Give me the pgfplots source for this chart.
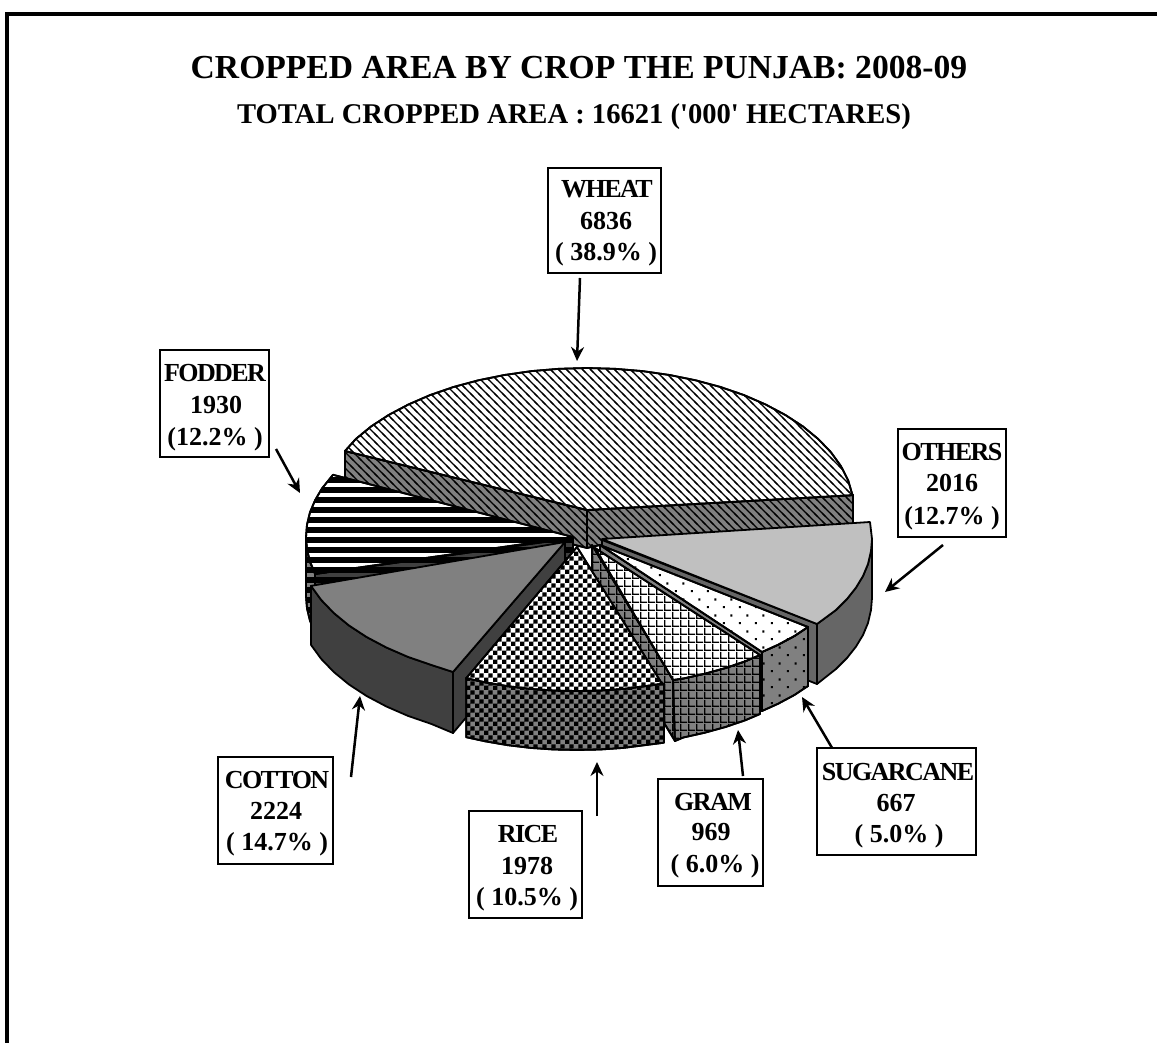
\documentclass[border=0pt]{standalone}
\usepackage{fontspec}
\setmainfont{Liberation Serif}
\usepackage{pgfplots}
\pgfplotsset{compat=1.18}
\usetikzlibrary{patterns,arrows.meta}

% hatchings, 1 px of the reference = 0.5pt
\pgfdeclarepatternformonly{hatchwheat}{\pgfqpoint{-1pt}{-1pt}}{\pgfqpoint{5pt}{5pt}}{\pgfqpoint{4pt}{4pt}}{
  \pgfsetlinewidth{0.65pt}
  \pgfpathmoveto{\pgfqpoint{-1pt}{5pt}}\pgfpathlineto{\pgfqpoint{5pt}{-1pt}}
  \pgfusepath{stroke}}
\pgfdeclarepatternformonly{stripes}{\pgfqpoint{-1pt}{0pt}}{\pgfqpoint{201pt}{5pt}}{\pgfqpoint{200pt}{5pt}}{
  \pgfpathrectangle{\pgfqpoint{-1pt}{0pt}}{\pgfqpoint{202pt}{2.8pt}}
  \pgfusepath{fill}}
\pgfdeclarepatternformonly{checker}{\pgfqpoint{0pt}{0pt}}{\pgfqpoint{4.4pt}{4.4pt}}{\pgfqpoint{4.4pt}{4.4pt}}{
  \pgfpathrectangle{\pgfqpoint{0pt}{0pt}}{\pgfqpoint{2.2pt}{2.2pt}}
  \pgfpathrectangle{\pgfqpoint{2.2pt}{2.2pt}}{\pgfqpoint{2.2pt}{2.2pt}}
  \pgfusepath{fill}}
\pgfdeclarepatternformonly{gridhatch}{\pgfqpoint{0pt}{0pt}}{\pgfqpoint{4pt}{4pt}}{\pgfqpoint{4pt}{4pt}}{
  \pgfpathrectangle{\pgfqpoint{0pt}{0pt}}{\pgfqpoint{4pt}{0.8pt}}
  \pgfpathrectangle{\pgfqpoint{0pt}{0pt}}{\pgfqpoint{0.8pt}{4pt}}
  \pgfusepath{fill}}
\pgfdeclarepatternformonly{dotted}{\pgfqpoint{0pt}{0pt}}{\pgfqpoint{8pt}{8pt}}{\pgfqpoint{8pt}{8pt}}{
  \pgfpathrectangle{\pgfqpoint{1.5pt}{1.5pt}}{\pgfqpoint{1.1pt}{1.1pt}}
  \pgfpathrectangle{\pgfqpoint{5.5pt}{5.5pt}}{\pgfqpoint{1.1pt}{1.1pt}}
  \pgfusepath{fill}}

\definecolor{sidegray}{HTML}{808080}
\definecolor{darkgray}{HTML}{404040}
\definecolor{midgray}{HTML}{666666}
\definecolor{lightgray}{HTML}{C0C0C0}

\tikzset{
  slice/.style={draw=black,line width=0.9pt,line join=round},
  pat/.style n args={2}{slice,preaction={fill=#1},pattern=#2},
  box/.style={draw=black,line width=0.9pt,fill=white},
  arr/.style={black,line width=1.25pt,-{Stealth[length=7pt,width=6.5pt]}},
  big/.style={font=\bfseries\fontsize{16.8}{18}\selectfont,anchor=base},
  sub/.style={font=\bfseries\fontsize{14.3}{15}\selectfont,anchor=base},
  lab/.style={font=\bfseries\fontsize{13}{15}\selectfont,anchor=base,inner sep=0pt},
  name/.style={font=\bfseries\fontsize{13}{15}\selectfont\addfontfeature{LetterSpace=-6},anchor=base,inner sep=0pt},
}

\begin{document}
\begin{tikzpicture}
\begin{axis}[
    scale only axis,
    width=578.5pt,
    height=521.5pt,
    xmin=0,xmax=1157,
    ymin=0,ymax=1043,
    y dir=reverse,
    hide axis,
]
% keeps the whole page in the picture
\addplot[draw=none] coordinates {(0,0) (1157,1043)};
% frame
\addplot[black,line width=2.25pt] coordinates {(7,1043) (7,14) (1157,14)};

% wheat
\addplot[pat={sidegray}{hatchwheat}] coordinates {(345,451) (587,510) (587,548) (575,545) (345,482)} --cycle;
\addplot[pat={sidegray}{hatchwheat}] coordinates {(587,510) (853,495) (853,530) (600,545) (587,548)} --cycle;
\addplot[pat={white}{hatchwheat}] coordinates {
  (587,510) (852.5,495.2) (848.2,480.5) (840.9,466.1) (830.9,452.2) (818.2,439) (803,426.5)
  (785.4,415) (765.6,404.5) (744,395.1) (720.5,387) (695.6,380.3) (669.5,375) (642.5,371.1)
  (614.9,368.8) (587,368) (559.1,368.8) (531.5,371.1) (504.5,375) (478.4,380.3) (453.5,387)
  (430,395.1) (408.4,404.5) (388.6,415) (371,426.5) (355.8,439) (345,451)} --cycle;

% fodder
\addplot[pat={sidegray}{stripes}] coordinates {(306,537) (307,549.4) (310,561.7) (315.1,573.8) (315.1,632.8) (310,620.7) (307,608.4) (306,596)} --cycle;
\addplot[pat={darkgray}{stripes}] coordinates {(573,538) (315,574) (315,633) (573,600)} --cycle;
\addplot[pat={white}{stripes}] coordinates {
  (573,537) (333,474.8) (322,488.4) (315.1,500.2) (310,512.3) (307,524.6) (306,537) (307,549.4) (310,561.7) (315.1,573.8)} --cycle;

% cotton
\addplot[slice,fill=darkgray] coordinates {(453,672) (431.5,665) (408,656.9) (386.4,647.5) (366.6,637) (349,625.5) (333.8,613) (321.1,599.8) (311,585.9)
  (311,644.9) (321.1,658.8) (333.8,672) (349,684.5) (366.6,696) (386.4,706.5) (408,715.9) (431.5,724) (453,733)} --cycle;
\addplot[slice,fill=darkgray] coordinates {(565,542) (453,672) (453,733) (565,601)} --cycle;
\addplot[slice,fill=sidegray] coordinates {(565,542) (311,585.9) (321.1,599.8) (333.8,613) (349,625.5) (366.6,637) (386.4,647.5) (408,656.9) (431.5,665) (453,672)} --cycle;

% others
\addplot[slice,fill=midgray] coordinates {(817,624) (836,610) (847,599) (856,587.6) (863,576) (868,564) (871,551) (872,539)
  (872,598) (871,610) (868,623) (863,635) (856,646.6) (847,658) (836,669) (817,684)} --cycle;
\addplot[slice,fill=midgray] coordinates {(602,540) (817,624) (817,684) (602,600)} --cycle;
\addplot[slice,fill=lightgray] coordinates {(602,539) (870,522) (872,539) (871,551) (868,564) (863,576) (856,587.6) (847,599) (836,610) (817,624)} --cycle;

% sugarcane
\addplot[slice,fill=sidegray] coordinates {(600,545) (762,652) (762,711) (600,604)} --cycle;
\addplot[pat={sidegray}{dotted}] coordinates {(762,652) (778,644.8) (794.4,636) (808,627) (808,686) (794.4,695) (778,703.8) (762,711)} --cycle;
\addplot[pat={white}{dotted}] coordinates {(600,545) (762,652) (778,644.8) (794.4,636) (808,627)} --cycle;

% gram
\addplot[pat={sidegray}{gridhatch}] coordinates {(592,545) (673,680) (675,741) (592,604)} --cycle;
\addplot[pat={sidegray}{gridhatch}] coordinates {(673,680) (683.3,678.5) (704.8,673.7) (725.5,668) (745.2,661.3) (760,655)
  (760,714) (745.2,720.3) (725.5,727) (704.8,732.7) (683.3,737.5) (675,741)} --cycle;
\addplot[pat={white}{gridhatch}] coordinates {(595,548) (673,680) (683.3,678.5) (704.8,673.7) (725.5,668) (745.2,661.3) (760,655)} --cycle;

% rice
\addplot[pat={sidegray}{checker}] coordinates {(466.2,678.2) (485.7,682.4) (507.9,686.2) (530.6,688.9) (553.7,690.5) (577,691) (600.2,690.5) (623.4,688.9) (646,686) (664,683.7)
  (664,742.7) (646,745) (623.4,747.9) (600.2,749.5) (577,750) (553.7,749.5) (530.6,747.9) (507.9,745.2) (485.7,741.4) (466.2,737.2)} --cycle;
\addplot[pat={white}{checker}] coordinates {(577,547) (466.2,678.2) (485.7,682.4) (507.9,686.2) (530.6,688.9) (553.7,690.5) (577,691) (600.2,690.5) (623.4,688.9) (646,686) (662,683.7)} --cycle;

% arrows
\addplot[arr] coordinates {(580,278) (577,361)};
\addplot[arr] coordinates {(276,449) (300,493)};
\addplot[arr] coordinates {(943,545) (885,592)};
\addplot[arr] coordinates {(838,758) (802,697)};
\addplot[arr] coordinates {(743,776) (738,730)};
\addplot[arr] coordinates {(597,816) (597,762)};
\addplot[arr] coordinates {(351,777) (360,696)};

% label boxes
\addplot[box] coordinates {(548,168) (661,168) (661,273) (548,273)} --cycle;
\addplot[box] coordinates {(160,350) (269,350) (269,457) (160,457)} --cycle;
\addplot[box] coordinates {(898,429) (1006,429) (1006,537) (898,537)} --cycle;
\addplot[box] coordinates {(817,748) (976,748) (976,855) (817,855)} --cycle;
\addplot[box] coordinates {(658,779) (763,779) (763,886) (658,886)} --cycle;
\addplot[box] coordinates {(469,811) (582,811) (582,918) (469,918)} --cycle;
\addplot[box] coordinates {(218,757) (333,757) (333,864) (218,864)} --cycle;

% titles
\node[big] at (axis cs:579,79) {CROPPED AREA BY CROP THE PUNJAB: 2008-09};
\node[sub] at (axis cs:574,124) {TOTAL CROPPED AREA : 16621 (\textquotesingle 000\textquotesingle\ HECTARES)};

% labels
\node[name] at (axis cs:607,198) {WHEAT};
\node[lab] at (axis cs:606,230) {6836};
\node[lab] at (axis cs:606,261) {( 38.9\% )};
\node[name] at (axis cs:215,381) {FODDER};
\node[lab] at (axis cs:216,413) {1930};
\node[lab] at (axis cs:215,445) {(12.2\% )};
\node[name] at (axis cs:952,460) {OTHERS};
\node[lab] at (axis cs:952,491) {2016};
\node[lab] at (axis cs:952,524) {(12.7\% )};
\node[name] at (axis cs:898,780) {SUGARCANE};
\node[lab] at (axis cs:896,811) {667};
\node[lab] at (axis cs:899,842) {( 5.0\% )};
\node[name] at (axis cs:713,810) {GRAM};
\node[lab] at (axis cs:711,840) {969};
\node[lab] at (axis cs:715,872) {( 6.0\% )};
\node[name] at (axis cs:528,842) {RICE};
\node[lab] at (axis cs:527,874) {1978};
\node[lab] at (axis cs:527,905) {( 10.5\% )};
\node[name] at (axis cs:277,788) {COTTON};
\node[lab] at (axis cs:276,819) {2224};
\node[lab] at (axis cs:277,850) {( 14.7\% )};
\end{axis}
\end{tikzpicture}
\end{document}
